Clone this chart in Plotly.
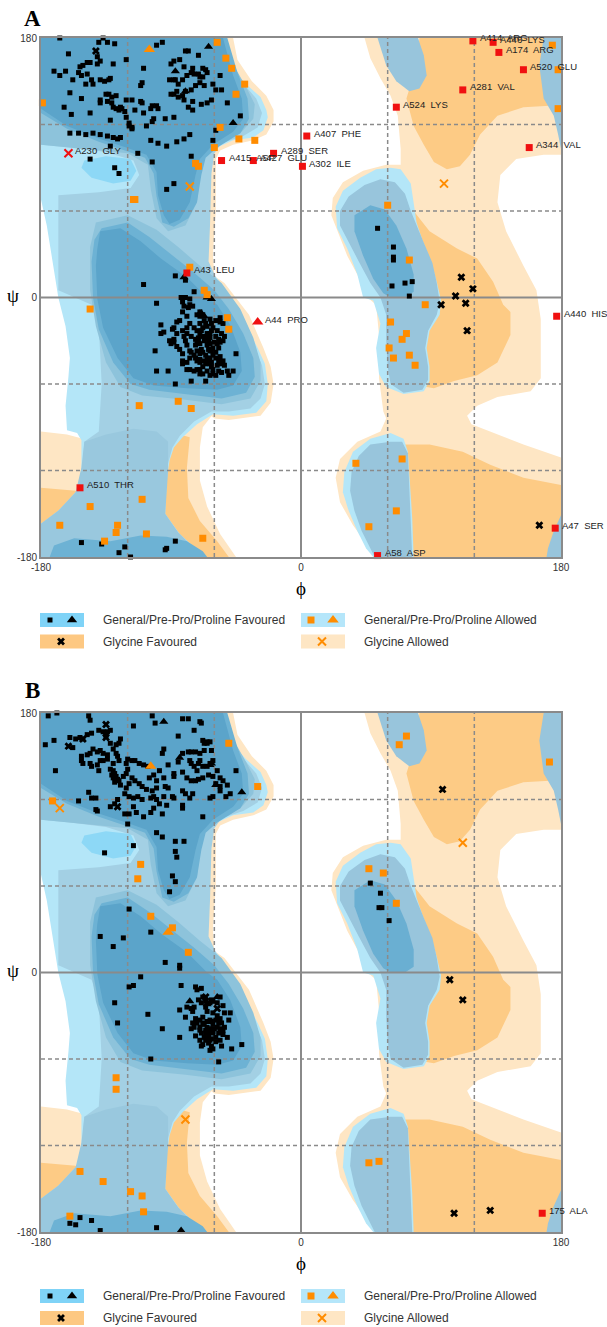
import plotly.graph_objects as go

# ---------------- background regions (phi, psi) ----------------
PEACH_RIGHT = [(44,180),(180,180),(180,99),(168,99),(149,96),(138,85),(136,66),(142,46),(154,22),(163,5),(166,-15),(166,-56),(159,-65),(136,-69),(122,-75),(115,-82),(118,-88),(131,-93),(154,-102),(180,-111),(180,-180),(52,-180),(46,-172),(36,-158),(27,-142),(24,-125),(27,-112),(39,-100),(55,-93),(59,-84),(57,-79),(54,-56),(54,-26),(52,-5),(46,0),(39,16),(32,29),(25,46),(21,57),(22,69),(29,80),(43,88),(59,92),(69,92),(69,103),(67,126),(62,140),(55,152),(48,166)]
PEACH_LEFT_RIM = [(-47,180),(-44,165),(-34,150),(-24,140),(-19,130),(-19,122),(-24,113),(-33,109),(-47,106),(-56,102),(-59,96),(-59,60),(-61,30),(-60,15),(-53,10),(-45,0),(-36,-12),(-26,-35),(-21,-48),(-19,-60),(-21,-73),(-28,-82),(-50,-85),(-60,-84),(-90,-60),(-90,100),(-90,180)]
PEACH_LEFT_LOW = [(-61,-81),(-68,-90),(-70,-104),(-70,-127),(-65,-145),(-56,-164),(-45,-180),(-100,-180),(-100,-95),(-80,-88)]
PEACH_LEFT_EDGE = [(-180,-93),(-162,-95),(-151,-98),(-150,-180),(-180,-180)]
ORANGE_RIGHT_TOP = [(82,180),(80,161),(73,138),(78,119),(85,106),(92,94),(101,89),(110,91),(117,99),(124,113),(136,126),(154,132),(172,133),(180,133),(180,180)]
ORANGE_RIGHT_MID = [(70,65),(78,60),(89,46),(108,34),(122,27),(133,11),(140,-5),(145,-10),(145,-26),(136,-45),(122,-54),(106,-58),(92,-63),(75,-60),(70,-30),(70,0)]
ORANGE_RIGHT_LOW = [(72,-102),(89,-102),(112,-107),(131,-116),(154,-125),(180,-130),(180,-180),(72,-180)]
ORANGE_LEFT_LOW = [(-84,-95),(-77,-97),(-79,-118),(-78,-139),(-70,-155),(-58,-169),(-50,-180),(-95,-180),(-95,-100)]
ORANGE_LEFT_EDGE = [(-180,-132),(-156,-134),(-152,-140),(-165,-150),(-180,-157)]
CYAN_LEFT = [(-180,180),(-54,180),(-49,160),(-38,148),(-28,139),(-24,130),(-23,125),(-26,116),(-33,111),(-47,109),(-58,104),(-62,97),(-63,86),(-64,60),(-66,35),(-64,20),(-57,12),(-51,0),(-42,-12),(-30,-35),(-25,-46),(-23,-60),(-24,-72),(-31,-80),(-47,-82),(-61,-81),(-72,-88),(-82,-97),(-88,-104),(-91,-113),(-93,-127),(-94,-150),(-84,-164),(-72,-175),(-68,-180),(-180,-180),(-180,-157),(-168,-148),(-156,-135),(-152,-127),(-152,-99),(-155,-94),(-162,-92),(-163,-75),(-161,-55),(-160,-42),(-163,-20),(-168,0),(-172,25),(-176,50),(-180,68)]
CYAN_LALPHA = [(24,63),(29,74),(41,83),(52,89),(62,90),(69,89),(76,79),(78,66),(80,52),(84,40),(90,25),(94,11),(97,-2),(96,-12),(89,-23),(87,-35),(89,-48),(89,-58),(85,-65),(71,-67),(59,-62),(54,-53),(52,-35),(55,-18),(50,-2),(43,0),(39,16),(32,34),(25,48)]
CYAN_RLOW = [(62,-94),(48,-98),(36,-107),(30,-121),(29,-135),(33,-148),(39,-162),(45,-174),(50,-180),(78,-180),(77,-153),(75,-121),(74,-107),(71,-98)]
CYAN_BRIGHT = [(-150,95),(-135,98),(-118,96),(-114,88),(-118,81),(-130,79),(-145,83),(-152,90)]
GRAY_LEFT = [(-180,180),(-55,180),(-50,160),(-40,148),(-31,138),(-27,128),(-30,118),(-40,112),(-55,107),(-60,100),(-62,86),(-63,50),(-64,25),(-58,12),(-50,0),(-43,-13),(-32,-35),(-27,-47),(-25,-60),(-28,-70),(-35,-77),(-50,-79),(-62,-79),(-74,-86),(-84,-96),(-89,-104),(-92,-115),(-94,-130),(-95,-150),(-85,-163),(-73,-175),(-69,-180),(-180,-180),(-180,-157),(-168,-148),(-156,-135),(-152,-127),(-150,-100),(-140,-93),(-138,-60),(-140,-20),(-145,-5),(-168,5),(-168,71),(-140,73),(-118,76),(-112,85),(-116,95),(-135,101),(-160,104),(-180,106)]
MED_BOTTOM = [(-152,-118),(-150,-100),(-135,-95),(-116,-91),(-100,-93),(-92,-100),(-92,-120),(-94,-150),(-85,-163),(-73,-175),(-69,-180),(-180,-180),(-180,-157),(-168,-148),(-156,-135)]
MED_BETA = [(-180,180),(-52,180),(-46,160),(-38,146),(-32,134),(-33,124),(-42,114),(-58,106),(-66,100),(-70,85),(-72,66),(-80,50),(-92,46),(-100,55),(-104,75),(-106,92),(-120,100),(-150,103),(-180,106)]
MED_ALPHA = [(-142,52),(-120,57),(-100,47),(-85,35),(-70,22),(-55,10),(-42,-8),(-33,-28),(-28,-45),(-28,-58),(-35,-70),(-55,-74),(-80,-71),(-110,-68),(-125,-62),(-135,-45),(-142,-20),(-146,5),(-146,35)]
RMED_BLOB = [(53,180),(59,161),(66,150),(75,143),(82,145),(87,154),(85,168),(81,180)]
RMED_EDGE = [(168,180),(165,161),(168,138),(175,126),(178,113),(180,103),(180,180)]
RMED_LALPHA = [(27,60),(33,70),(44,78),(55,82),(65,80),(72,72),(76,60),(80,50),(85,38),(91,24),(94,10),(96,-3),(94,-12),(88,-23),(86,-35),(88,-48),(88,-57),(84,-64),(71,-66),(62,-60),(60,-48),(59,-30),(59,-12),(55,0),(48,10),(40,25),(32,40),(27,50)]
RMED_LOW = [(62,-100),(48,-102),(40,-110),(35,-121),(34,-134),(37,-148),(42,-162),(48,-174),(51,-180),(77,-180),(76,-153),(75,-121),(74,-108),(70,-100)]
RMED_CORNER = [(180,-151),(175,-162),(171,-174),(170,-180),(180,-180)]
DARK_BETA = [(-180,180),(-51,180),(-44,156),(-37,138),(-36,124),(-42,114),(-58,104),(-66,97),(-69,85),(-72,66),(-78,55),(-88,49),(-96,52),(-100,70),(-102,86),(-108,97),(-122,102),(-140,108),(-162,117),(-180,128)]
DARK_ALPHA = [(-138,48),(-120,52),(-105,42),(-90,30),(-75,18),(-60,5),(-50,-8),(-40,-25),(-33,-42),(-32,-55),(-38,-66),(-55,-70),(-80,-67),(-105,-64),(-118,-60),(-130,-45),(-140,-22),(-144,0),(-145,25),(-143,40)]
DARK_BOTTOM = [(-174,-180),(-171,-172),(-157,-167),(-132,-169),(-111,-165),(-93,-166),(-79,-169),(-68,-176),(-65,-180)]
RDARK_LALPHA = [(37,57),(48,64),(58,61),(66,50),(73,34),(78,16),(78,4),(72,0),(62,0),(57,3),(50,13),(43,29),(37,46)]
DARKEST_BETA = [(-180,180),(-54,180),(-47,154),(-41,138),(-40,124),(-47,115),(-61,106),(-70,96),(-73,85),(-77,66),(-84,54),(-91,51),(-95,57),(-99,71),(-100,87),(-107,99),(-121,104),(-139,110),(-162,119),(-180,131)]
DARKEST_ALPHA = [(-139,46),(-125,48),(-111,39),(-97,27),(-79,14),(-65,0),(-58,-5),(-49,-19),(-42,-38),(-41,-51),(-47,-61),(-58,-64),(-79,-63),(-102,-61),(-116,-56),(-127,-42),(-137,-21),(-141,-1),(-142,22),(-141,34)]

# ---------------- Panel A residues (phi, psi) ----------------
A_FAV_SQ = [(-167,180),(-140,177),(-137,180),(-134,177),(-129,176),(-100,175),(-96,177),(-161,169),(-141,167),(-139,164),(-80,171),(-78,171),(-84,165),(-71,168),(-88,164),(-90,162),(-109,159),(-81,160),(-75,159),(-68,159),(-66,158),(-65,156),(-171,157),(-167,154),(-163,157),(-158,151),(-153,160),(-151,161),(-154,156),(-148,163),(-146,163),(-148,155),(-152,154),(-145,151),(-139,151),(-149,148),(-144,148),(-133,151),(-132,152),(-136,150),(-121,165),(-130,162),(-141,162),(-111,147),(-110,149),(-91,151),(-88,151),(-87,151),(-82,151),(-79,154),(-76,156),(-74,155),(-70,153),(-71,155),(-68,153),(-61,148),(-56,154),(-55,144),(-160,142),(-152,138),(-139,137),(-133,141),(-135,141),(-131,139),(-128,140),(-139,135),(-134,136),(-131,135),(-130,132),(-128,131),(-126,130),(-125,132),(-124,131),(-122,129),(-121,137),(-117,137),(-111,136),(-110,135),(-104,131),(-103,133),(-99,131),(-100,133),(-115,130),(-109,128),(-102,124),(-94,124),(-88,125),(-90,141),(-88,141),(-85,139),(-81,137),(-82,140),(-86,143),(-85,148),(-80,143),(-76,144),(-73,147),(-70,149),(-67,147),(-59,144),(-75,136),(-75,130),(-78,132),(-69,134),(-65,135),(-62,137),(-51,135),(-42,126),(-59,116),(-159,127),(-164,132),(-146,128),(-132,123),(-121,125),(-119,121),(-119,119),(-117,118),(-117,117),(-107,119),(-103,122),(-160,114),(-154,114),(-149,113),(-144,114),(-139,113),(-134,112),(-130,111),(-127,110),(-125,111),(-132,105),(-129,90),(-126,86),(-113,100),(-104,109),(-99,107),(-93,105),(-86,108),(-81,110),(-77,113),(-61,109),(-76,98),(-93,75),(-88,79),(-103,94),(-146,96),
            (-87,15),(-80,12),(-109,9),(-74,4),
            (-83,0),(-80,0),(-77,-1),(-82,-3),(-77,-5),(-81,-6),(-75,-6),(-70,-10),(-68,-12),(-78,-7),(-100,-4),(-82,-10),(-79,-13),(-84,-16),(-86,-17),(-88,-21),(-89,-22),(-97,-19),(-97,-25),(-95,-24),(-91,-30),(-90,-32),(-88,-31),(-101,-37),(-86,-34),(-84,-36),(-82,-39),(-82,-44),(-79,-45),(-77,-42),(-76,-38),(-73,-33),(-72,-30),(-71,-28),(-70,-25),(-69,-23),(-68,-21),(-66,-18),(-63,-15),(-65,-25),(-63,-28),(-67,-30),(-70,-32),(-69,-36),(-68,-38),(-66,-40),(-65,-42),(-64,-44),(-63,-46),(-66,-46),(-68,-48),(-70,-50),(-72,-50),(-74,-51),(-77,-50),(-79,-50),(-82,-46),(-62,-48),(-61,-50),(-58,-47),(-56,-46),(-57,-44),(-59,-42),(-61,-40),(-63,-37),(-61,-35),(-58,-32),(-56,-31),(-54,-30),(-53,-27),(-55,-25),(-58,-23),(-61,-21),(-62,-18),(-59,-16),(-56,-14),(-56,-17),(-54,-18),(-57,-35),(-59,-38),(-56,-41),(-54,-44),(-53,-47),(-50,-54),(-47,-51),(-45,-39),(-51,-51),(-61,-53),(-63,-54),(-66,-58),(-59,-54),(-76,-58),(-87,-60),(-92,-51),(-100,-51),(-65,-33),(-63,-32),(-64,-30),(-66,-28),(-68,-27),(-72,-23),(-74,-21),(-77,-18),(-79,-21),(-76,-27),(-73,-29),(-71,-31),(-67,-16),(-70,-13),(-72,-12),(-70,-18),(-65,-20),(-62,-23),(-59,-27),(-57,-29),(-63,-42),(-67,-44),(-70,-45),(-72,-44),(-74,-40),(-77,-37),(-79,-33),(-80,-30),(-81,-27),(-79,-25),(-82,-23),(-86,-25),(-88,-29),(-70,-39),(-72,-37),(-73,-42),(-70,-43),(-62,-45),(-57,-51),(-55,-52),(-65,-51),(-68,-53),(-70,-53),(-64,-36),(-62,-37),(-60,-31),(-63,-25),
            (-152,-170),(-138,-171),(-126,-177),(-122,-173),(-118,-180),(-94,-175),(-93,-174),(-87,-169),
            (53,48),(64,35),(64,28),(64,26),(63,8),(72,10),(77,11),(75,1)]
A_FAV_TRI = [(-64,174),(-87,157),(-75,156),(-80,143),(-47,121),(-81,14),(-69,-11),(-67,-13),(-70,-11),(-62,-1),(-65,0)]
A_FAV_GLY = [(-142,171),(111,14),(119,6),(107,1),(114,-4),(97,-5),(115,-23),(165,-158)]
A_ALW_SQ = [(-58,177),(-52,166),(-48,159),(-39,148),(-45,141),(-179,135),(-56,118),(-43,110),(-32,109),(-60,104),(-73,93),(-71,91),(-116,68),(-115,68),(-77,21),(-67,5),(-65,2),(-146,-8),(-51,-14),(-50,-22),(-112,-75),(-85,-72),(-76,-77),(-110,-140),(-146,-145),(-167,-158),(-127,-158),(-128,-163),(-136,-169),(-107,-164),(-68,-167),(60,64),(75,26),(174,175),(178,158),(178,131),(86,-5),(62,-17),(73,-25),(70,-29),(61,-35),(64,-42),(75,-40),(79,-47),(38,-115),(70,-112),(66,-148),(47,-159)]
A_ALW_TRI = [(-105,172)]
A_ALW_GLY = [(-77,77),(99,79)]
A_OUT_SQ = [("A415  ASP",-55,95),("A427  GLU",-33,95),("A289  SER",-19,100),("A407  PHE",4,112),("A302  ILE",1,91),("A43  LEU",-79,17),("A510  THR",-153,-132),("A58  ASP",53,-179),("A47  SER",176,-160),("A440  HIS",177,-13),("A414  ARG",119,178),("A446  LYS",133,177),("A174  ARG",137,170),("A520  GLU",154,158),("A281  VAL",112,144),("A524  LYS",66,132),("A344  VAL",158,104)]
A_OUT_TRI = [("A44  PRO",-30,-17)]
A_OUT_GLY = [("A230  GLY",-161,100)]

# ---------------- Panel B residues (phi, psi) ----------------
B_FAV_SQ = [(-175,178),(-169,180),(-147,178),(-146,175),(-103,178),(-101,173),(-116,171),(-82,176),(-78,176),(-70,174),(-69,173),(-74,168),(-85,164),(-95,155),(-96,152),(-82,152),(-78,153),(-76,153),(-73,153),(-70,152),(-68,161),(-67,159),(-65,160),(-65,159),(-63,160),(-67,154),(-62,154),(-77,147),(-76,145),(-74,143),(-72,140),(-71,145),(-70,147),(-68,143),(-65,143),(-63,145),(-61,147),(-58,140),(-56,135),(-54,133),(-51,130),(-49,124),(-52,122),(-45,140),(-56,129),(-59,131),(-61,136),(-64,137),(-68,135),(-71,134),(-73,133),(-76,133),(-79,135),(-82,139),(-85,146),(-88,138),(-92,144),(-88,136),(-92,128),(-89,122),(-82,126),(-82,116),(-82,114),(-80,124),(-75,124),(-77,121),(-68,108),(-63,121),(-61,122),(-56,126),(-96,110),(-100,97),(-96,94),(-87,91),(-81,91),(-87,84),(-86,80),(-89,67),(-87,63),(-91,56),(-116,88),(-136,83),(-160,163),(-158,156),(-156,162),(-153,163),(-151,162),(-148,165),(-145,166),(-140,168),(-137,167),(-134,167),(-132,168),(-135,164),(-132,159),(-130,155),(-128,158),(-126,159),(-125,162),(-128,152),(-127,150),(-126,147),(-130,145),(-132,141),(-134,151),(-137,152),(-139,154),(-141,153),(-144,155),(-146,152),(-148,151),(-152,150),(-152,147),(-151,145),(-146,145),(-145,143),(-141,144),(-139,147),(-137,147),(-134,148),(-140,140),(-130,140),(-129,138),(-128,136),(-127,134),(-126,133),(-130,135),(-131,137),(-129,132),(-125,130),(-123,136),(-121,138),(-120,141),(-121,145),(-120,148),(-117,147),(-115,147),(-112,145),(-109,144),(-106,143),(-105,135),(-102,137),(-100,133),(-98,140),(-95,135),(-94,129),(-100,128),(-103,126),(-107,127),(-110,129),(-112,131),(-115,133),(-117,135),(-119,131),(-121,128),(-122,124),(-119,122),(-116,121),(-113,122),(-110,120),(-104,121),(-102,122),(-100,120),(-98,117),(-93,116),(-88,121),(-95,122),(-102,114),(-104,111),(-109,108),(-114,111),(-116,115),(-119,110),(-120,103),(-122,110),(-127,120),(-129,117),(-132,115),(-142,113),(-141,112),(-147,125),(-145,121),(-142,121),(-154,119),(-170,140),(-171,161),(-177,158),
            (-119,44),(-139,25),(-123,24),(-130,18),(-104,28),(-94,7),(-84,5),(-84,3),(-111,-3),
            (-83,-9),(-73,-10),(-72,-12),(-69,-11),(-129,-21),(-127,-35),(-106,-29),(-96,-39),(-84,-45),(-104,-60),(-57,-62),(-119,-10),(-116,-9),
            (-84,-26),(-80,-31),(-79,-24),(-76,-25),(-74,-24),(-75,-27),(-71,-19),(-69,-21),(-68,-17),(-66,-20),(-66,-24),(-63,-21),(-62,-19),(-61,-20),(-58,-21),(-56,-17),(-54,-23),(-65,-27),(-61,-28),(-68,-31),(-70,-33),(-72,-35),(-74,-38),(-70,-40),(-69,-42),(-67,-45),(-66,-47),(-64,-49),(-62,-51),(-61,-53),(-63,-54),(-65,-38),(-63,-39),(-61,-36),(-58,-38),(-56,-39),(-57,-42),(-59,-45),(-62,-46),(-64,-43),(-66,-40),(-62,-34),(-59,-33),(-57,-35),(-56,-32),(-58,-30),(-55,-35),(-54,-40),(-51,-45),(-48,-53),(-41,-50),(-55,-51),(-70,-47),(-73,-44),(-69,-51),(-61,-41),(-63,-33),(-65,-34),(-67,-36),(-68,-35),(-63,-41),(-59,-48),(-56,-47),(-68,-50),(-63,-47),(-61,-42),(-66,-42),(-65,-46),(-60,-39),(-70,-38),(-76,-39),(-54,-43),(-53,-38),(-50,-33),(-49,-28),(-53,-28),(-73,-32),(-75,-35),
            (-160,-174),(-156,-175),(-153,-170),(-145,-172),(-139,-179),(-100,-177),
            (48,62),(55,55),(54,45),(56,45),(61,36)]
B_FAV_TRI = [(-95,174),(-84,149),(-63,144),(-62,145),(-41,125),(-59,130),(-77,-20),(-58,-17),(-65,-22),(-83,-179)]
B_FAV_GLY = [(-135,172),(-135,163),(-161,157),(-151,162),(-127,115),(-66,-17),(-58,-25),(98,127),(103,-5),(112,-19),(106,-167),(131,-165)]
B_ALW_SQ = [(-50,159),(-30,129),(-172,119),(-111,75),(-113,65),(-104,39),(-89,31),(-78,14),(-128,-73),(-128,-81),(-153,-138),(-137,-145),(-118,-152),(-110,-155),(-109,-166),(-160,-169),(73,164),(68,158),(172,146),(47,72),(57,69),(66,48),(47,-132),(54,-131)]
B_ALW_TRI = [(-104,143),(-92,28)]
B_ALW_GLY = [(-167,114),(-80,-102),(112,90)]
B_OUT_SQ = [("175  ALA",167,-167)]
B_OUT_TRI = []
B_OUT_GLY = []

GRID_DASH = [-120, -60, 60, 120]
TICKS = [-180, 0, 180]

LEGEND_ITEMS = ["General/Pre-Pro/Proline Favoured", "General/Pre-Pro/Proline Allowed",
                "Glycine Favoured", "Glycine Allowed"]

# ---------------- styles ----------------
C_PEACH = "#FEE6C4"
C_ORANGE = "#FDCB85"
C_CYAN = "#B4E6F8"
C_BRIGHT = "#8DD8F6"
C_GRAY = "#A3D0E4"
C_MEDB = "#99C8DE"
C_MED = "#8DC3DB"
C_RMED = "#98C5DC"
C_DARK = "#6DB2D4"
C_RDARK = "#6AAFD2"
C_DARKEST = "#5BA4CA"
C_ORPT = "#FF8C00"
C_RED = "#F01010"
GRIDC = "#8a8a8a"

REGIONS = [
    (PEACH_RIGHT, C_PEACH), (PEACH_LEFT_RIM, C_PEACH), (PEACH_LEFT_LOW, C_PEACH), (PEACH_LEFT_EDGE, C_PEACH),
    (ORANGE_RIGHT_TOP, C_ORANGE), (ORANGE_RIGHT_MID, C_ORANGE), (ORANGE_RIGHT_LOW, C_ORANGE),
    (ORANGE_LEFT_LOW, C_ORANGE), (ORANGE_LEFT_EDGE, C_ORANGE),
    (CYAN_LEFT, C_CYAN), (CYAN_LALPHA, C_CYAN), (CYAN_RLOW, C_CYAN),
    (CYAN_BRIGHT, C_BRIGHT),
    (GRAY_LEFT, C_GRAY), (MED_BOTTOM, C_MEDB), (MED_BETA, C_MED), (MED_ALPHA, C_MED),
    (RMED_BLOB, C_RMED), (RMED_EDGE, C_RMED), (RMED_LALPHA, C_RMED), (RMED_LOW, C_RMED), (RMED_CORNER, C_RMED),
    (DARK_BETA, C_DARK), (DARK_ALPHA, C_DARK), (DARK_BOTTOM, C_DARK), (RDARK_LALPHA, C_RDARK),
    (DARKEST_BETA, C_DARKEST), (DARKEST_ALPHA, C_DARKEST),
]

fig = go.Figure()

def xy(pts):
    return [p[0] for p in pts], [p[1] for p in pts]

def xyl(pts):
    return [p[1] for p in pts], [p[2] for p in pts], [p[0] for p in pts]

PANELS = [
    ("x", "y", A_FAV_SQ, A_FAV_TRI, A_FAV_GLY, A_ALW_SQ, A_ALW_TRI, A_ALW_GLY, A_OUT_SQ, A_OUT_TRI, A_OUT_GLY),
    ("x2", "y2", B_FAV_SQ, B_FAV_TRI, B_FAV_GLY, B_ALW_SQ, B_ALW_TRI, B_ALW_GLY, B_OUT_SQ, B_OUT_TRI, B_OUT_GLY),
]

annotations = []
for (xa, ya, fsq, ftri, fgly, asq, atri, agly, osq, otri, ogly) in PANELS:
    for pts, col in REGIONS:
        px, py = xy(pts)
        fig.add_trace(go.Scatter(x=px + [px[0]], y=py + [py[0]], mode="lines", fill="toself",
                                 fillcolor=col, line=dict(width=0, color=col),
                                 hoverinfo="skip", showlegend=False, xaxis=xa, yaxis=ya))
    gx, gy = [], []
    for v in GRID_DASH:
        gx += [v, v, None]; gy += [-180, 180, None]
        gx += [-180, 180, None]; gy += [v, v, None]
    fig.add_trace(go.Scatter(x=gx, y=gy, mode="lines", line=dict(color=GRIDC, width=1.5, dash="4px,3px"),
                             hoverinfo="skip", showlegend=False, xaxis=xa, yaxis=ya))
    fig.add_trace(go.Scatter(x=[0, 0, None, -180, 180], y=[-180, 180, None, 0, 0], mode="lines",
                             line=dict(color=GRIDC, width=2), hoverinfo="skip", showlegend=False,
                             xaxis=xa, yaxis=ya))
    def pts_trace(pts, symbol, color, size, lw=0):
        if not pts:
            return
        px, py = xy(pts)
        fig.add_trace(go.Scatter(x=px, y=py, mode="markers", cliponaxis=False,
                                 marker=dict(symbol=symbol, color=color, size=size,
                                             line=dict(width=lw, color=color)),
                                 hoverinfo="skip", showlegend=False, xaxis=xa, yaxis=ya))
    pts_trace(fsq, "square", "black", 5)
    pts_trace(ftri, "triangle-up", "black", 8)
    pts_trace(fgly, "x", "black", 7)
    pts_trace(asq, "square", C_ORPT, 7)
    pts_trace(atri, "triangle-up", C_ORPT, 10)
    pts_trace(agly, "x-thin", C_ORPT, 8, 2)
    for lst, sym, size, lw in ((osq, "square", 7, 0), (otri, "triangle-up", 10, 0), (ogly, "x-thin", 8, 2)):
        if not lst:
            continue
        px, py, lab = xyl(lst)
        fig.add_trace(go.Scatter(x=px, y=py, mode="markers", cliponaxis=False,
                                 marker=dict(symbol=sym, color=C_RED, size=size, line=dict(width=lw, color=C_RED)),
                                 hoverinfo="skip", showlegend=False, xaxis=xa, yaxis=ya))
        for t, xx, yy in zip(lab, px, py):
            annotations.append(dict(x=xx, y=yy, xref=xa, yref=ya, text=t, showarrow=False,
                                    xanchor="left", yanchor="middle", xshift=5, yshift=3,
                                    font=dict(family="Liberation Sans", size=9.5, color="#222")))

# ---------------- legend / labels on a pixel overlay axis ----------------
W, H = 607, 1327
LEG_ROWS = {"A": (620, 641.5), "B": (1296, 1318)}
shapes = []
for key, (r1, r2) in LEG_ROWS.items():
    boxes = [(40, 84, r1, "#7FD3F7"), (301, 345, r1, "#B5E6FA"), (40, 84, r2, "#FDC882"), (301, 345, r2, "#FEE6C4")]
    for (x0, x1, yc, col), txt in zip(boxes, LEGEND_ITEMS):
        shapes.append(dict(type="rect", xref="x3", yref="y3", x0=x0, x1=x1, y0=yc - 7, y1=yc + 7,
                           fillcolor=col, line=dict(width=0), layer="below"))
        annotations.append(dict(x=x1 + 17, y=yc, xref="x3", yref="y3", text=txt, showarrow=False,
                                xanchor="left", yanchor="middle",
                                font=dict(family="Liberation Sans", size=12, color="#333")))
    fig.add_trace(go.Scatter(x=[50], y=[r1], mode="markers", marker=dict(symbol="square", size=5, color="black"),
                             xaxis="x3", yaxis="y3", showlegend=False, hoverinfo="skip"))
    fig.add_trace(go.Scatter(x=[72], y=[r1], mode="markers", marker=dict(symbol="triangle-up", size=9, color="black"),
                             xaxis="x3", yaxis="y3", showlegend=False, hoverinfo="skip"))
    fig.add_trace(go.Scatter(x=[311], y=[r1], mode="markers", marker=dict(symbol="square", size=7, color=C_ORPT),
                             xaxis="x3", yaxis="y3", showlegend=False, hoverinfo="skip"))
    fig.add_trace(go.Scatter(x=[333], y=[r1], mode="markers", marker=dict(symbol="triangle-up", size=10, color=C_ORPT),
                             xaxis="x3", yaxis="y3", showlegend=False, hoverinfo="skip"))
    fig.add_trace(go.Scatter(x=[61], y=[r2], mode="markers", marker=dict(symbol="x", size=7, color="black"),
                             xaxis="x3", yaxis="y3", showlegend=False, hoverinfo="skip"))
    fig.add_trace(go.Scatter(x=[322], y=[r2], mode="markers",
                             marker=dict(symbol="x-thin", size=8, color=C_ORPT, line=dict(width=2, color=C_ORPT)),
                             xaxis="x3", yaxis="y3", showlegend=False, hoverinfo="skip"))

TITLES = [("A", 32, 18), ("B", 32, 690)]
for t, xx, yy in TITLES:
    annotations.append(dict(x=xx, y=yy, xref="x3", yref="y3", text="<b>%s</b>" % t, showarrow=False,
                            font=dict(family="Liberation Serif", size=23, color="black")))
AXLAB = [("\u03c8", 13, 295), ("\u03d5", 301, 588), ("\u03c8", 13, 970), ("\u03d5", 301, 1263)]
for t, xx, yy in AXLAB:
    annotations.append(dict(x=xx, y=yy, xref="x3", yref="y3", text=t, showarrow=False,
                            font=dict(family="Liberation Serif", size=19, color="black")))

XD = [41 / W, 561 / W]
axis_common = dict(range=[-180, 180], tickvals=TICKS, ticktext=[str(t) for t in TICKS], showgrid=False,
                   zeroline=False, showline=True, mirror=True, linecolor=GRIDC, linewidth=2, ticks="",
                   automargin=False,
                   tickfont=dict(family="Liberation Sans", size=10, color="#333"), fixedrange=True)
fig.update_layout(
    template="none",
    width=W, height=H, margin=dict(l=0, r=0, t=0, b=0, pad=0), autosize=False,
    paper_bgcolor="white", plot_bgcolor="rgba(0,0,0,0)",
    xaxis=dict(domain=XD, anchor="y", **axis_common),
    yaxis=dict(domain=[1 - 557 / H, 1 - 38 / H], anchor="x", **axis_common),
    xaxis2=dict(domain=XD, anchor="y2", **axis_common),
    yaxis2=dict(domain=[1 - 1232 / H, 1 - 713 / H], anchor="x2", **axis_common),
    xaxis3=dict(domain=[0, 1], range=[0, W], visible=False, anchor="y3", fixedrange=True, automargin=False),
    yaxis3=dict(domain=[0, 1], range=[H, 0], visible=False, anchor="x3", fixedrange=True, automargin=False),
    shapes=shapes, annotations=annotations, showlegend=False,
)
fig.write_html("out.html", config={"displayModeBar": False},
               post_script="document.body.style.margin='0px';document.body.style.padding='0px';"
                           "document.documentElement.style.overflow='hidden';")
